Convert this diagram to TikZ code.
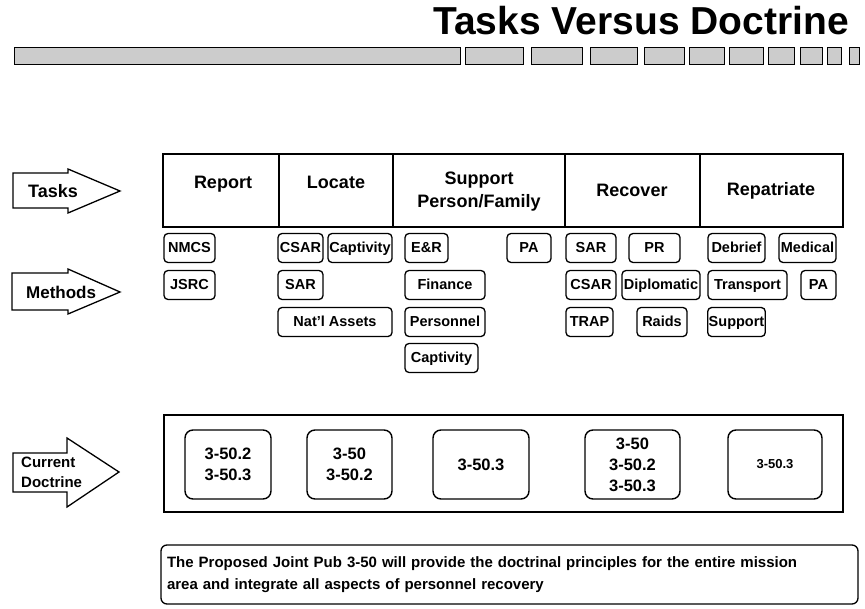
\documentclass[tikz,border=0pt]{standalone}
\usepackage{fontspec}
\setmainfont{Liberation Sans}
\newcommand\titlefont{\fontsize{39}{40}\selectfont\bfseries}
\newcommand\hdfont{\fontsize{18}{23}\selectfont\bfseries}
\newcommand\methfont{\fontsize{14.5}{16}\selectfont\bfseries}
\newcommand\docfont{\fontsize{16.5}{21}\selectfont\bfseries}
\newcommand\notefont{\fontsize{15}{22}\selectfont\bfseries}
\tikzset{
	x=1pt, y=-1pt, % one unit per pixel, y runs down the page
	cell/.style={draw, line width=1.6pt, minimum height=73pt, inner sep=0pt}, % one column of the task table
	lbl/.style={font=\hdfont, inner sep=0pt, anchor=base}, % task names
	meth/.style={draw, line width=1.3pt, rounded corners=4pt, minimum height=29pt, inner sep=1pt, text height=10.5pt, text depth=2.5pt, font=\methfont}, % method boxes
	doc/.style={draw, line width=1.4pt, rounded corners=8pt, minimum height=69pt, align=center, font=\docfont}, % doctrine boxes
	tag/.style={draw, line width=1.3pt, fill=white}, % the big arrows on the left
	stripe/.style={draw, line width=1pt, fill=gray!40}, % the bar under the title
}
\begin{document}
\begin{tikzpicture}
	\useasboundingbox (0,0) rectangle (865,608);
	% title and bar
	\node[font=\titlefont, anchor=base east, inner sep=0pt] (title) at (849,34) {Tasks Versus Doctrine};
	\foreach \a/\b in {14/460, 465/523, 531/582, 590/637, 644/684, 689/724, 729/763, 768/794, 800/822, 827/841, 849/859}
		\draw[stripe] (\a,47) rectangle (\b,64);
	% arrows
	\draw[tag] (13,173) -- (68,173) -- (68,169) -- (120,191) -- (68,213) -- (68,208) -- (13,208) -- cycle;
	\draw[tag] (12,273) -- (68,273) -- (68,269) -- (120,292) -- (68,314) -- (68,310) -- (12,310) -- cycle;
	\draw[tag] (13,453) -- (67,453) -- (67,438) -- (119,472) -- (67,507) -- (67,492) -- (13,492) -- cycle;
	\node[font=\hdfont, anchor=base west, inner sep=0pt] (atask) at (28,197) {Tasks};
	\node[font=\fontsize{17}{19}\selectfont\bfseries, anchor=base west, inner sep=0pt] (ameth) at (26,298) {Methods};
	\node[font=\fontsize{15}{20}\selectfont\bfseries, anchor=base west, inner sep=0pt, align=left] (adoc) at (21,487) {Current\\Doctrine};
	% tasks
	\node[cell, minimum width=116pt] (rep) at (221,190.5) {};
	\node[cell, minimum width=114pt] (loc) at (336,190.5) {};
	\node[cell, minimum width=172pt] (sup) at (479,190.5) {};
	\node[cell, minimum width=135pt] (rec) at (632.5,190.5) {};
	\node[cell, minimum width=143pt] (rpt) at (771.5,190.5) {};
	\node[lbl] (trep) at (223,188) {Report};
	\node[lbl] (tloc) at (336,188) {Locate};
	\node[lbl, align=center] (tsup) at (479,207.5) {Support\\Person/Family};
	\node[lbl] (trec) at (632,196.5) {Recover};
	\node[lbl] (trpt) at (771,195) {Repatriate};
	% methods
	\node[meth, minimum width=51pt] (nmcs) at (189.5,248) {NMCS};
	\node[meth, minimum width=51pt] (jsrc) at (189.5,285) {JSRC};
	\node[meth, minimum width=45pt] (csar1) at (300.5,248) {CSAR};
	\node[meth, minimum width=64pt] (capt1) at (360,248) {Captivity};
	\node[meth, minimum width=45pt] (sar1) at (300.5,285) {SAR};
	\node[meth, minimum width=114pt] (nat) at (335,322) {Nat'l Assets};
	\node[meth, minimum width=43pt] (er) at (426.5,248) {E\&R};
	\node[meth, minimum width=44pt] (pa1) at (529,248) {PA};
	\node[meth, minimum width=80pt] (fin) at (445,285) {Finance};
	\node[meth, minimum width=80pt] (pers) at (445,322) {Personnel};
	\node[meth, minimum width=73pt] (capt2) at (441.5,358) {Captivity};
	\node[meth, minimum width=50pt] (sar2) at (591,248) {SAR};
	\node[meth, minimum width=51pt] (pr) at (654.5,248) {PR};
	\node[meth, minimum width=50pt] (csar2) at (591,285) {CSAR};
	\node[meth, minimum width=78pt] (dipl) at (661,285) {Diplomatic};
	\node[meth, minimum width=47pt] (trap) at (589.5,322) {TRAP};
	\node[meth, minimum width=50pt] (raid) at (662,322) {Raids};
	\node[meth, minimum width=57pt] (debr) at (736.5,248) {Debrief};
	\node[meth, minimum width=57pt] (med) at (807.5,248) {Medical};
	\node[meth, minimum width=79pt] (tran) at (747.5,285) {Transport};
	\node[meth, minimum width=35pt] (pa2) at (818.5,285) {PA};
	\node[meth, minimum width=57pt] (supp) at (736.5,322) {Support};
	% current doctrine
	\node[draw, line width=1.6pt, minimum width=679pt, minimum height=97pt] (cur) at (503.5,463.5) {};
	\node[doc, minimum width=86pt] (d1) at (228,464.5) {3-50.2\\3-50.3};
	\node[doc, minimum width=85pt] (d2) at (349.5,464.5) {3-50\\3-50.2};
	\node[doc, minimum width=96pt] (d3) at (481,464.5) {3-50.3};
	\node[doc, minimum width=95pt] (d4) at (632.5,464.5) {3-50\\3-50.2\\3-50.3};
	\node[doc, minimum width=94pt, font=\fontsize{13}{16}\selectfont\bfseries] (d5) at (775,464.5) {3-50.3};
	% note
	\node[draw, line width=1.3pt, rounded corners=6pt, minimum width=697pt, minimum height=59pt, text width=685pt, inner xsep=6pt, align=left, font=\notefont] (note) at (509.5,574.5) {The Proposed Joint Pub 3-50 will provide the doctrinal principles for the entire mission\\area and integrate all aspects of personnel recovery};
\end{tikzpicture}
\end{document}
